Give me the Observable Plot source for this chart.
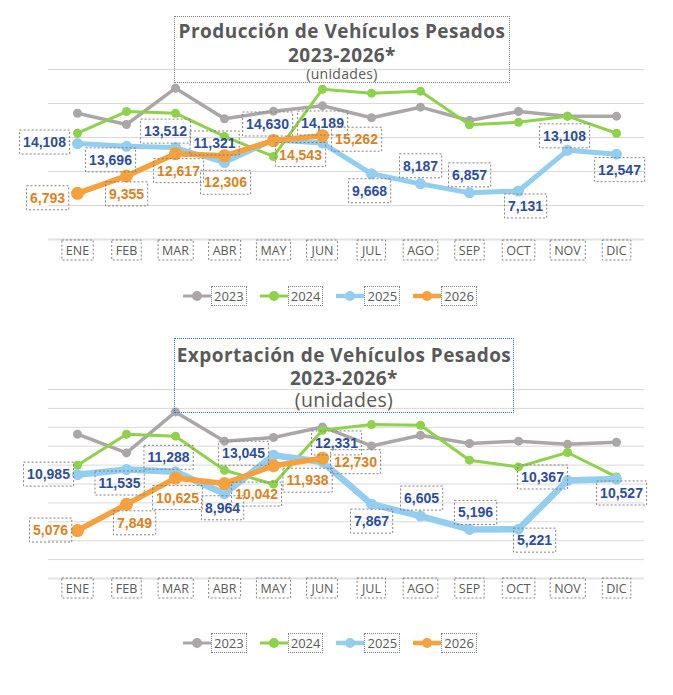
<!DOCTYPE html>
<html>
<head>
<meta charset="utf-8">
<script src="https://cdn.jsdelivr.net/npm/d3@7"></script>
<script src="https://cdn.jsdelivr.net/npm/@observablehq/plot@0.6"></script>
<style>
  body { margin: 0; background: #fff; }
  #page { position: relative; width: 673px; height: 695px; overflow: hidden; font-family: "Open Sans", sans-serif; color: #595959; }
  .chart { position: absolute; left: 0; }
  .titlebox { position: absolute; box-sizing: border-box; }
  .titlebox span { position: absolute; left: -10px; right: -10px; text-align: center; white-space: nowrap; line-height: 1; }
  .legend { position: absolute; left: 183px; display: flex; align-items: center; gap: 13px; font-size: 13px; color: #595959; }
  .legend .item { display: flex; align-items: center; }
  .legend .key { border: 1px dotted #7f7f7f; padding: 0 2px; line-height: 18px; }
</style>
</head>
<body>
<div id="page"></div>
<script>
const months = ["ENE", "FEB", "MAR", "ABR", "MAY", "JUN", "JUL", "AGO", "SEP", "OCT", "NOV", "DIC"];
const years = ["2023", "2024", "2025", "2026"];

// Producción de vehículos pesados (unidades)
const prod2023 = [18570, 16910, 22250, 17750, 18870, 19660, 17900, 19460, 17500, 18820, 18140, 18140];
const prod2024 = [15630, 18820, 18570, 15150, 12210, 22100, 21520, 21810, 16860, 17250, 18140, 15630];
const prod2025 = [14108, 13696, 13512, 11321, 14630, 14189, 9668, 8187, 6857, 7131, 13108, 12547];
const prod2026 = [6793, 9355, 12617, 12306, 14543, 15262];

// Exportación de vehículos pesados (unidades)
const exp2023 = [15270, 13290, 17630, 14530, 14920, 16040, 14030, 15160, 14280, 14530, 14210, 14420];
const exp2024 = [11990, 15270, 15060, 11460, 9980, 15690, 16290, 16220, 12520, 11810, 13330, 10750];
const exp2025 = [10985, 11535, 11288, 8964, 13045, 12331, 7867, 6605, 5196, 5221, 10367, 10527];
const exp2026 = [5076, 7849, 10625, 10042, 11938, 12730];

// gridline values
const prodTicks = [0, 5000, 10000, 15000, 20000, 25000];
const expTicks = [0, 2000, 4000, 6000, 8000, 10000, 12000, 14000, 16000, 18000, 20000];

// series styling
const colors = ["#ABA7A7", "#8ED14B", "#93CDF0", "#F4A13E"];
const prodWidths = [3.5, 3, 5, 5.5];
const expWidths = [3.5, 3, 6.5, 5.5];
const radii = [4.5, 4.5, 5.5, 6.5];
const labelColors = {2: "#2E4D9C", 3: "#D98324"};

// value-label placement (pixel offsets from each point), 2025 and 2026
const prodOffsets2025 = [[-33,-1],[-16,14],[-10,-16],[-10,-19],[-6,-15.5],[0,-19.5],[-2,17.5],[0,-17.5],[0,-17.5],[7,15.5],[-3,-14],[3,16]];
const prodOffsets2026 = [[-30,5],[0,18.5],[3,17.5],[1,27],[27,14.5],[34,4]];
const expOffsets2025 = [[-29,0],[-7,14],[-7,-14],[-2,14.5],[-30,-1.5],[14,-18.5],[0,17.5],[1,-17.5],[6,-16.5],[16,11.5],[-25,-3],[5,14.5]];
const expOffsets2026 = [[-27,0],[8,19],[2,20],[32,11],[34,15],[33,4]];

const fmt = d3.format(",");

function chart({series, offsets, widths, ticks, height, marginTop, marginBottom, tickDy}) {
  const marks = [
    Plot.ruleY(ticks.slice(1), {stroke: "#D9D9D9", strokeWidth: 1}),
    Plot.ruleY([0], {stroke: "#E2E2E2", strokeWidth: 2})
  ];
  series.forEach((vals, i) => {
    const rows = vals.map((v, j) => ({month: months[j], value: v}));
    marks.push(Plot.line(rows, {x: "month", y: "value", stroke: colors[i], strokeWidth: widths[i]}));
    marks.push(Plot.dot(rows, {x: "month", y: "value", fill: colors[i], r: radii[i]}));
  });
  [2, 3].forEach(i => {
    series[i].forEach((v, j) => {
      const [dx, dy] = offsets[i][j];
      marks.push(Plot.text([{month: months[j], value: v}], {
        x: "month", y: "value", text: d => fmt(d.value), dx, dy,
        fill: labelColors[i], fontSize: 14, fontWeight: "bold",
        fontFamily: "'Liberation Sans', Arial, sans-serif"
      }));
    });
  });
  marks.push(Plot.text(months, {
    x: d => d, frameAnchor: "bottom", dy: tickDy,
    fill: "#595959", fontSize: 12.5, fontFamily: "'Open Sans', sans-serif"
  }));
  return Plot.plot({
    width: 673, height, marginLeft: 48, marginRight: 29, marginTop, marginBottom,
    style: {background: "transparent", overflow: "visible"},
    x: {type: "point", domain: months, padding: 0.5, axis: null},
    y: {domain: [0, ticks[ticks.length - 1]], axis: null},
    marks
  });
}

// dotted frames around every text of a chart (value labels and month labels)
function frameTexts(svg) {
  svg.querySelectorAll("text").forEach(t => {
    const b = t.getBBox();
    const big = parseFloat(getComputedStyle(t).fontSize) > 13;
    const px = big ? 3.5 : 4, py = big ? 4 : 1.5;
    const r = document.createElementNS("http://www.w3.org/2000/svg", "rect");
    r.setAttribute("x", b.x - px);
    r.setAttribute("y", b.y - py);
    r.setAttribute("width", b.width + 2 * px);
    r.setAttribute("height", b.height + 2 * py);
    if (t.getAttribute("transform")) r.setAttribute("transform", t.getAttribute("transform"));
    r.setAttribute("fill", "none");
    r.setAttribute("stroke", "#808080");
    r.setAttribute("stroke-width", 1);
    r.setAttribute("stroke-dasharray", "2,2");
    t.parentNode.insertBefore(r, t);
  });
}

function titleBox({left, top, width, height, border, lines}) {
  const box = document.createElement("div");
  box.className = "titlebox";
  Object.assign(box.style, {left: left + "px", top: top + "px", width: width + "px", height: height + "px", border});
  lines.forEach(l => {
    const s = document.createElement("span");
    s.textContent = l.text;
    Object.assign(s.style, {top: l.top + "px", fontSize: l.size + "px", fontWeight: l.weight, letterSpacing: l.spacing + "px", color: "#595959"});
    box.appendChild(s);
  });
  return box;
}

function legend(top) {
  const div = document.createElement("div");
  div.className = "legend";
  div.style.top = top + "px";
  years.forEach((y, i) => {
    const item = document.createElement("div");
    item.className = "item";
    const w = [3, 3, 4.5, 4.5][i];
    item.innerHTML = `<svg width="28" height="14"><line x1="1" x2="27" y1="7" y2="7" stroke="${colors[i]}" stroke-width="${w}" stroke-linecap="round"/><circle cx="14" cy="7" r="5" fill="${colors[i]}"/></svg><span class="key">${y}</span>`;
    div.appendChild(item);
  });
  return div;
}

const page = document.getElementById("page");

const top1 = chart({
  series: [prod2023, prod2024, prod2025, prod2026],
  offsets: {2: prodOffsets2025, 3: prodOffsets2026}, widths: prodWidths,
  ticks: prodTicks, height: 270, marginTop: 69, marginBottom: 31, tickDy: 15
});
top1.classList.add("chart");
top1.style.top = "0px";
page.appendChild(top1);

const bottom1 = chart({
  series: [exp2023, exp2024, exp2025, exp2026],
  offsets: {2: expOffsets2025, 3: expOffsets2026}, widths: expWidths,
  ticks: expTicks, height: 280, marginTop: 59, marginBottom: 32, tickDy: 14
});
bottom1.classList.add("chart");
bottom1.style.top = "330px";
page.appendChild(bottom1);

frameTexts(top1);
frameTexts(bottom1);

page.appendChild(titleBox({
  left: 174, top: 16, width: 336, height: 67, border: "1px dotted #7f7f7f",
  lines: [
    {text: "Producción de Vehículos Pesados", top: 4.5, size: 19, weight: "bold", spacing: 0.45},
    {text: "2023-2026*", top: 28.5, size: 19, weight: "bold", spacing: 0.45},
    {text: "(unidades)", top: 50, size: 14, weight: "normal", spacing: 0.3}
  ]
}));
page.appendChild(titleBox({
  left: 174, top: 338, width: 340, height: 75, border: "1px dotted #1F6FD6",
  lines: [
    {text: "Exportación de Vehículos Pesados", top: 6.5, size: 19, weight: "bold", spacing: 0.45},
    {text: "2023-2026*", top: 29.5, size: 19, weight: "bold", spacing: 0.45},
    {text: "(unidades)", top: 51, size: 19.5, weight: "normal", spacing: 0.3}
  ]
}));

page.appendChild(legend(286));
page.appendChild(legend(633));
</script>
</body>
</html>
